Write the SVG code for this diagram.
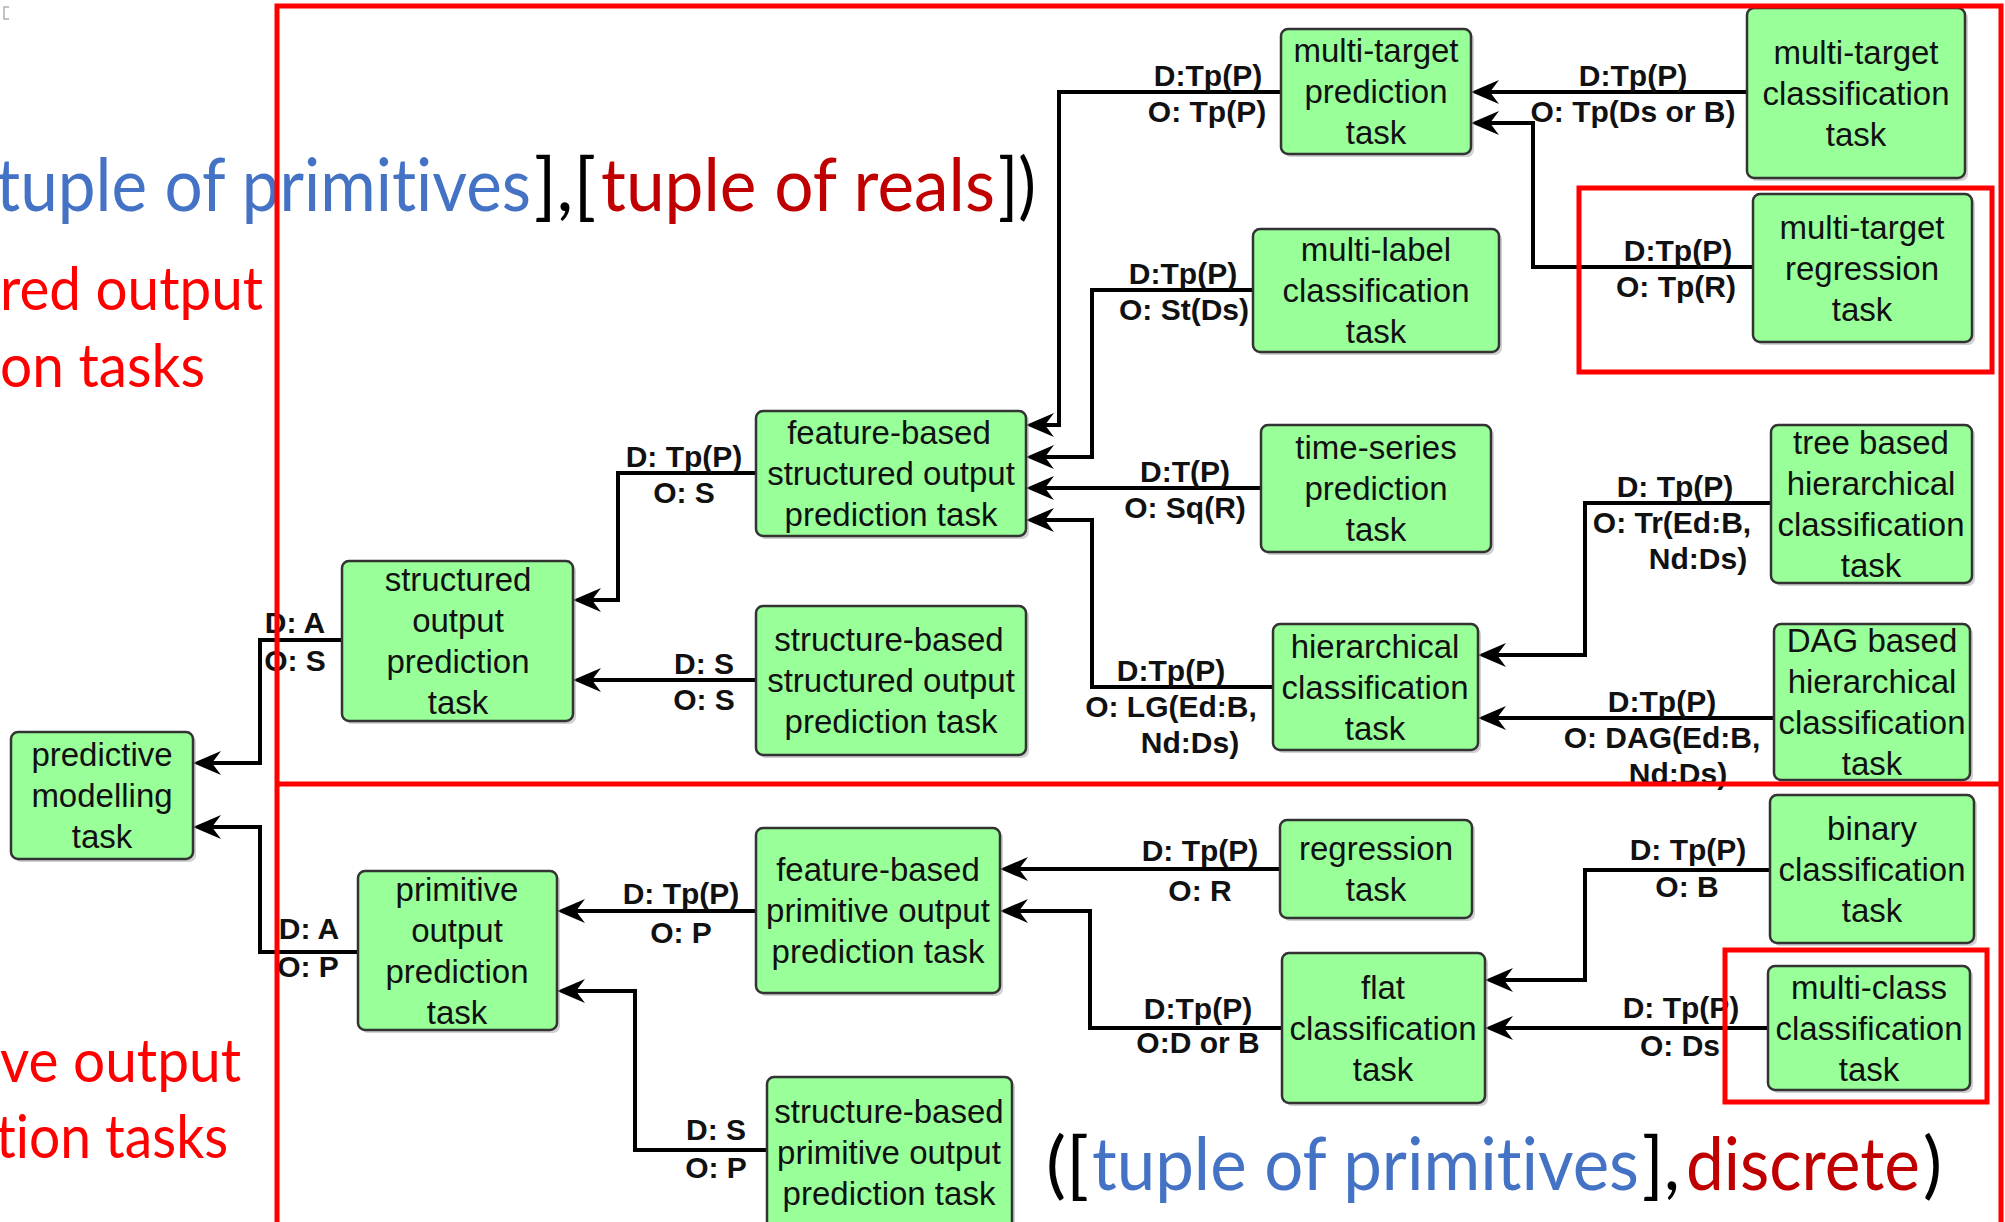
<svg xmlns="http://www.w3.org/2000/svg" width="2005" height="1222" viewBox="0 0 2005 1222">
  <defs>
    <style>
      .node rect.box { fill: #99ff99; stroke: #333333; stroke-width: 2.5; }
      .node rect.shadow { fill: #9a9a9a; opacity: 0.45; }
      .node text { font-family: "Liberation Sans", Arial, sans-serif; font-size: 33px; fill: #111111; text-anchor: middle; }
      .edge { fill: none; stroke: #000000; stroke-width: 4; marker-end: url(#arrow); }
      .lbl { font-family: "Liberation Sans", Arial, sans-serif; font-size: 30px; font-weight: bold; fill: #111111; text-anchor: middle; }
      .frame { fill: none; stroke: #ff0000; stroke-width: 5; }
      .big { font-family: Lato, "Open Sans", sans-serif; font-variant-ligatures: none; font-feature-settings: "liga" 0, "clig" 0; }
      .blue { fill: #4472c4; }
      .dred { fill: #c00000; }
      .blk { fill: #000000; }
      .red { fill: #ff0000; }
    </style>
    <marker id="arrow" markerUnits="userSpaceOnUse" markerWidth="30" markerHeight="26" refX="18" refY="13" orient="auto">
      <path d="M0,1 L28,13 L0,25 L9,13 Z" fill="#000000"/>
    </marker>
  </defs>

  <rect x="0" y="0" width="2005" height="1222" fill="#ffffff"/>

  <!-- small corner mark -->
  <path d="M9,7 H4 V19 H9" fill="none" stroke="#b0b0b0" stroke-width="1.5"/>

  <!-- connectors -->
  <g id="connectors">
    <path class="edge" d="M1281,92 H1059 V425 H1036"/>
    <path class="edge" d="M1747,92 H1481"/>
    <path class="edge" d="M1753,267 H1533 V123 H1481"/>
    <path class="edge" d="M1253,290 H1092 V457 H1036"/>
    <path class="edge" d="M1261,488 H1036"/>
    <path class="edge" d="M1273,687 H1092 V520 H1036"/>
    <path class="edge" d="M1771,503 H1585 V655 H1488"/>
    <path class="edge" d="M1774,718 H1488"/>
    <path class="edge" d="M756,473 H618 V600 H583"/>
    <path class="edge" d="M756,680 H583"/>
    <path class="edge" d="M342,640 H260 V763 H203"/>
    <path class="edge" d="M358,952 H260 V827 H203"/>
    <path class="edge" d="M756,911 H567"/>
    <path class="edge" d="M767,1150 H635 V991 H567"/>
    <path class="edge" d="M1280,869 H1010"/>
    <path class="edge" d="M1282,1028 H1090 V911 H1010"/>
    <path class="edge" d="M1770,870 H1585 V980 H1495"/>
    <path class="edge" d="M1768,1028 H1495"/>

    <!-- connector labels -->
    <text class="lbl" x="1208" y="86">D:Tp(P)</text>
    <text class="lbl" x="1207" y="122">O: Tp(P)</text>
    <text class="lbl" x="1633" y="86">D:Tp(P)</text>
    <text class="lbl" x="1633" y="122">O: Tp(Ds or B)</text>
    <text class="lbl" x="1678" y="261">D:Tp(P)</text>
    <text class="lbl" x="1676" y="297">O: Tp(R)</text>
    <text class="lbl" x="1183" y="284">D:Tp(P)</text>
    <text class="lbl" x="1184" y="320">O: St(Ds)</text>
    <text class="lbl" x="1185" y="482">D:T(P)</text>
    <text class="lbl" x="1185" y="518">O: Sq(R)</text>
    <text class="lbl" x="1171" y="681">D:Tp(P)</text>
    <text class="lbl" x="1171" y="717">O: LG(Ed:B,</text>
    <text class="lbl" x="1190" y="753">Nd:Ds)</text>
    <text class="lbl" x="1675" y="497">D: Tp(P)</text>
    <text class="lbl" x="1672" y="533">O: Tr(Ed:B,</text>
    <text class="lbl" x="1698" y="569">Nd:Ds)</text>
    <text class="lbl" x="1662" y="712">D:Tp(P)</text>
    <text class="lbl" x="1662" y="748">O: DAG(Ed:B,</text>
    <text class="lbl" x="1678" y="784">Nd:Ds)</text>
    <text class="lbl" x="684" y="467">D: Tp(P)</text>
    <text class="lbl" x="684" y="503">O: S</text>
    <text class="lbl" x="704" y="674">D: S</text>
    <text class="lbl" x="704" y="710">O: S</text>
    <text class="lbl" x="295" y="633">D: A</text>
    <text class="lbl" x="295" y="671">O: S</text>
    <text class="lbl" x="309" y="939">D: A</text>
    <text class="lbl" x="308" y="977">O: P</text>
    <text class="lbl" x="681" y="904">D: Tp(P)</text>
    <text class="lbl" x="681" y="943">O: P</text>
    <text class="lbl" x="716" y="1140">D: S</text>
    <text class="lbl" x="716" y="1178">O: P</text>
    <text class="lbl" x="1200" y="861">D: Tp(P)</text>
    <text class="lbl" x="1200" y="901">O: R</text>
    <text class="lbl" x="1198" y="1019">D:Tp(P)</text>
    <text class="lbl" x="1198" y="1053">O:D or B</text>
    <text class="lbl" x="1688" y="860">D: Tp(P)</text>
    <text class="lbl" x="1687" y="897">O: B</text>
    <text class="lbl" x="1681" y="1018">D: Tp(P)</text>
    <text class="lbl" x="1680" y="1056">O: Ds</text>
  </g>

  <!-- task nodes -->
  <g id="predictive-modelling" class="node">
    <rect class="shadow" x="14" y="735" width="182" height="127" rx="7"/>
    <rect class="box" x="11" y="732" width="182" height="127" rx="7"/>
    <text x="102" y="766">predictive</text>
    <text x="102" y="807">modelling</text>
    <text x="102" y="848">task</text>
  </g>
  <g id="structured-output" class="node">
    <rect class="shadow" x="345" y="564" width="231" height="160" rx="7"/>
    <rect class="box" x="342" y="561" width="231" height="160" rx="7"/>
    <text x="458" y="591">structured</text>
    <text x="458" y="632">output</text>
    <text x="458" y="673">prediction</text>
    <text x="458" y="714">task</text>
  </g>
  <g id="feature-based-structured" class="node">
    <rect class="shadow" x="759" y="414" width="270" height="125" rx="7"/>
    <rect class="box" x="756" y="411" width="270" height="125" rx="7"/>
    <text x="889" y="444">feature-based</text>
    <text x="891" y="485">structured output</text>
    <text x="891" y="526">prediction task</text>
  </g>
  <g id="structure-based-structured" class="node">
    <rect class="shadow" x="759" y="609" width="270" height="149" rx="7"/>
    <rect class="box" x="756" y="606" width="270" height="149" rx="7"/>
    <text x="889" y="651">structure-based</text>
    <text x="891" y="692">structured output</text>
    <text x="891" y="733">prediction task</text>
  </g>
  <g id="multi-target-prediction" class="node">
    <rect class="shadow" x="1284" y="32" width="190" height="125" rx="7"/>
    <rect class="box" x="1281" y="29" width="190" height="125" rx="7"/>
    <text x="1376" y="62">multi-target</text>
    <text x="1376" y="103">prediction</text>
    <text x="1376" y="144">task</text>
  </g>
  <g id="multi-target-classification" class="node">
    <rect class="shadow" x="1750" y="11" width="218" height="170" rx="7"/>
    <rect class="box" x="1747" y="8" width="218" height="170" rx="7"/>
    <text x="1856" y="64">multi-target</text>
    <text x="1856" y="105">classification</text>
    <text x="1856" y="146">task</text>
  </g>
  <g id="multi-target-regression" class="node">
    <rect class="shadow" x="1756" y="197" width="219" height="148" rx="7"/>
    <rect class="box" x="1753" y="194" width="219" height="148" rx="7"/>
    <text x="1862" y="239">multi-target</text>
    <text x="1862" y="280">regression</text>
    <text x="1862" y="321">task</text>
  </g>
  <g id="multi-label-classification" class="node">
    <rect class="shadow" x="1256" y="232" width="246" height="123" rx="7"/>
    <rect class="box" x="1253" y="229" width="246" height="123" rx="7"/>
    <text x="1376" y="261">multi-label</text>
    <text x="1376" y="302">classification</text>
    <text x="1376" y="343">task</text>
  </g>
  <g id="time-series-prediction" class="node">
    <rect class="shadow" x="1264" y="428" width="230" height="127" rx="7"/>
    <rect class="box" x="1261" y="425" width="230" height="127" rx="7"/>
    <text x="1376" y="459">time-series</text>
    <text x="1376" y="500">prediction</text>
    <text x="1376" y="541">task</text>
  </g>
  <g id="hierarchical-classification" class="node">
    <rect class="shadow" x="1276" y="627" width="205" height="126" rx="7"/>
    <rect class="box" x="1273" y="624" width="205" height="126" rx="7"/>
    <text x="1375" y="658">hierarchical</text>
    <text x="1375" y="699">classification</text>
    <text x="1375" y="740">task</text>
  </g>
  <g id="tree-hierarchical-classification" class="node">
    <rect class="shadow" x="1774" y="428" width="201" height="158" rx="7"/>
    <rect class="box" x="1771" y="425" width="201" height="158" rx="7"/>
    <text x="1871" y="454">tree based</text>
    <text x="1871" y="495">hierarchical</text>
    <text x="1871" y="536">classification</text>
    <text x="1871" y="577">task</text>
  </g>
  <g id="dag-hierarchical-classification" class="node">
    <rect class="shadow" x="1777" y="627" width="196" height="156" rx="7"/>
    <rect class="box" x="1774" y="624" width="196" height="156" rx="7"/>
    <text x="1872" y="652">DAG based</text>
    <text x="1872" y="693">hierarchical</text>
    <text x="1872" y="734">classification</text>
    <text x="1872" y="775">task</text>
  </g>
  <g id="primitive-output" class="node">
    <rect class="shadow" x="361" y="874" width="199" height="159" rx="7"/>
    <rect class="box" x="358" y="871" width="199" height="159" rx="7"/>
    <text x="457" y="901">primitive</text>
    <text x="457" y="942">output</text>
    <text x="457" y="983">prediction</text>
    <text x="457" y="1024">task</text>
  </g>
  <g id="feature-based-primitive" class="node">
    <rect class="shadow" x="759" y="831" width="244" height="165" rx="7"/>
    <rect class="box" x="756" y="828" width="244" height="165" rx="7"/>
    <text x="878" y="881">feature-based</text>
    <text x="878" y="922">primitive output</text>
    <text x="878" y="963">prediction task</text>
  </g>
  <g id="structure-based-primitive" class="node">
    <rect class="shadow" x="770" y="1080" width="245" height="170" rx="7"/>
    <rect class="box" x="767" y="1077" width="245" height="170" rx="7"/>
    <text x="889" y="1123">structure-based</text>
    <text x="889" y="1164">primitive output</text>
    <text x="889" y="1205">prediction task</text>
  </g>
  <g id="regression" class="node">
    <rect class="shadow" x="1283" y="823" width="192" height="98" rx="7"/>
    <rect class="box" x="1280" y="820" width="192" height="98" rx="7"/>
    <text x="1376" y="860">regression</text>
    <text x="1376" y="901">task</text>
  </g>
  <g id="flat-classification" class="node">
    <rect class="shadow" x="1285" y="956" width="203" height="150" rx="7"/>
    <rect class="box" x="1282" y="953" width="203" height="150" rx="7"/>
    <text x="1383" y="999">flat</text>
    <text x="1383" y="1040">classification</text>
    <text x="1383" y="1081">task</text>
  </g>
  <g id="binary-classification" class="node">
    <rect class="shadow" x="1773" y="798" width="204" height="148" rx="7"/>
    <rect class="box" x="1770" y="795" width="204" height="148" rx="7"/>
    <text x="1872" y="840">binary</text>
    <text x="1872" y="881">classification</text>
    <text x="1872" y="922">task</text>
  </g>
  <g id="multi-class-classification" class="node">
    <rect class="shadow" x="1771" y="969" width="202" height="124" rx="7"/>
    <rect class="box" x="1768" y="966" width="202" height="124" rx="7"/>
    <text x="1869" y="999">multi-class</text>
    <text x="1869" y="1040">classification</text>
    <text x="1869" y="1081">task</text>
  </g>

  <!-- headline annotations: each coloured run is its own text -->
  <g id="annotations" class="big">
    <text class="blue" x="-4" y="211" font-size="73" textLength="535" lengthAdjust="spacingAndGlyphs">tuple of primitives</text>
    <text class="blk" x="534" y="211" font-size="73" textLength="62" lengthAdjust="spacingAndGlyphs">],[</text>
    <text class="dred" x="601" y="211" font-size="73" textLength="394" lengthAdjust="spacingAndGlyphs">tuple of reals</text>
    <text class="blk" x="998" y="211" font-size="73" textLength="38" lengthAdjust="spacingAndGlyphs">])</text>

    <text class="red" x="0" y="310" font-size="60" textLength="263" lengthAdjust="spacingAndGlyphs">red output</text>
    <text class="red" x="0" y="387" font-size="60" textLength="205" lengthAdjust="spacingAndGlyphs">on tasks</text>
    <text class="red" x="0" y="1082" font-size="60" textLength="241" lengthAdjust="spacingAndGlyphs">ve output</text>
    <text class="red" x="-4" y="1158" font-size="60" textLength="232" lengthAdjust="spacingAndGlyphs">tion tasks</text>

    <text class="blk" x="1046" y="1190" font-size="73" textLength="43" lengthAdjust="spacingAndGlyphs">([</text>
    <text class="blue" x="1092" y="1190" font-size="73" textLength="547" lengthAdjust="spacingAndGlyphs">tuple of primitives</text>
    <text class="blk" x="1642" y="1190" font-size="73" textLength="38" lengthAdjust="spacingAndGlyphs">],</text>
    <text class="dred" x="1686" y="1190" font-size="73" textLength="234" lengthAdjust="spacingAndGlyphs">discrete</text>
    <text class="blk" x="1923" y="1190" font-size="73" textLength="19" lengthAdjust="spacingAndGlyphs">)</text>
  </g>

  <!-- red grouping frames -->
  <g id="frames">
    <path class="frame" d="M277,1225 V6 H2001 V1225"/>
    <path class="frame" d="M277,784 H2001"/>
    <rect class="frame" x="1579" y="188" width="413" height="184"/>
    <rect class="frame" x="1725" y="950" width="262" height="152"/>
  </g>
</svg>
